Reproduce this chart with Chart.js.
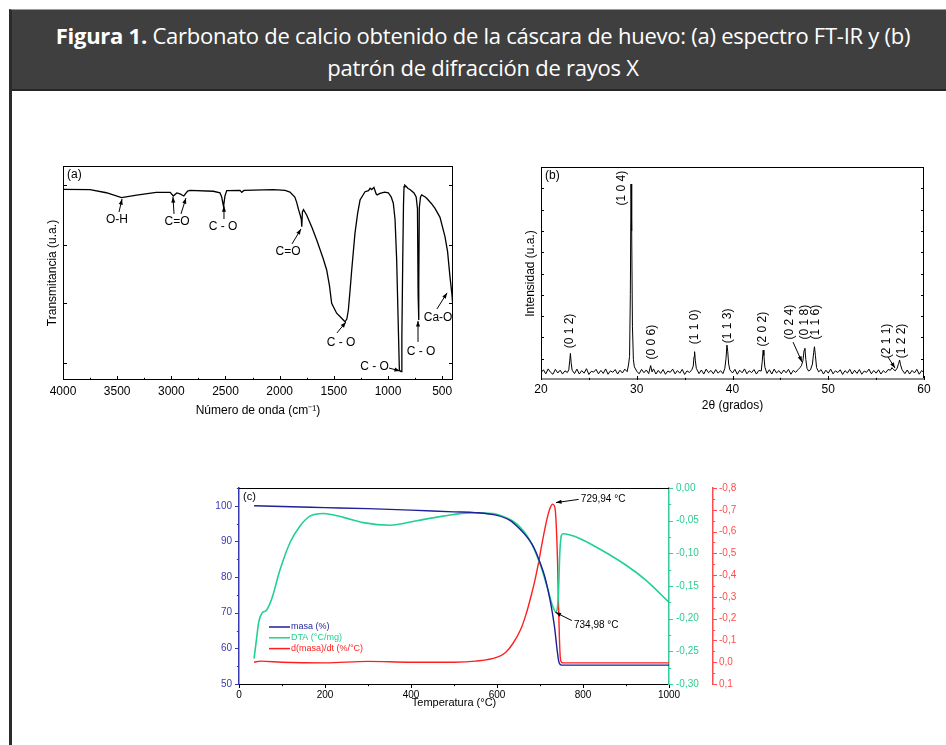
<!DOCTYPE html>
<html lang="es">
<head>
  <meta charset="UTF-8">
  <title>Figura 1</title>
  <script src="https://cdn.jsdelivr.net/npm/chart.js"></script>
  <style>
    body { margin: 0; background: #fff; width: 946px; height: 745px; overflow: hidden; position: relative; }
    #frame {
      position: absolute; left: 9px; top: 9px; width: 940px; height: 760px;
      border-left: 3px solid #2b2b2b; border-top: 1px solid #9a9a9a;
    }
    #head {
      background: #3f3f3f; height: 70px; padding-top: 9px;
      border-bottom: 2px solid #262626;
      color: #fff; text-align: center;
      font-family: "Open Sans", sans-serif; font-size: 22px; line-height: 32px;
      letter-spacing: -0.25px; padding-left: 2px;
    }
    #head b { font-weight: 700; }
    canvas { position: absolute; }
    #chartA { left: 20px; top: 150px; }
    #chartB { left: 500px; top: 150px; }
    #chartC { left: 200px; top: 475px; }
  </style>
</head>
<body>
  <div id="frame">
    <div id="head"><b>Figura 1.</b> Carbonato de calcio obtenido de la cáscara de huevo: (a) espectro FT-IR y (b)<br>patrón de difracción de rayos X</div>
  </div>
  <canvas id="chartA" width="450" height="280"></canvas>
  <canvas id="chartB" width="446" height="280"></canvas>
  <canvas id="chartC" width="550" height="245"></canvas>

  <script>
    // (a) FT-IR
    const irWave = [4000, 3750, 3600, 3460, 3320, 3140, 3010, 2982, 2950, 2920, 2885, 2850, 2828, 2612, 2551, 2535, 2518, 2505, 2489, 2366, 2350, 2330, 2060, 1950, 1905, 1860, 1843, 1825, 1810, 1800, 1796, 1790, 1780, 1751, 1700, 1658, 1600, 1566, 1540, 1520, 1474, 1430, 1397, 1380, 1366, 1350, 1335, 1305, 1280, 1258, 1212, 1180, 1165, 1150, 1130, 1110, 1100, 1074, 1030, 997, 970, 951, 935, 920, 905, 895, 880, 872, 864, 857, 852, 845, 834, 815, 797, 760, 740, 728, 722, 718, 714, 711, 700, 689, 660, 643, 600, 566, 520, 474, 450, 428, 410, 400];
    const irTrans = [89.1, 89.0, 87.5, 85.2, 86.4, 87.7, 87.7, 86.0, 87.4, 87.0, 86.0, 88.3, 88.6, 88.2, 87.5, 85.5, 81.0, 86.0, 88.5, 88.6, 87.7, 88.6, 89.0, 88.6, 87.8, 85.5, 83.0, 79.5, 77.0, 75.0, 71.6, 78.5, 79.6, 77.1, 71.0, 65.4, 57.0, 51.4, 44.0, 35.8, 31.2, 29.0, 27.2, 28.5, 32.7, 42.0, 51.4, 68.5, 78.0, 84.1, 88.0, 88.5, 89.6, 89.0, 90.0, 87.0, 86.5, 87.2, 87.8, 87.5, 85.5, 82.6, 75.0, 56.1, 25.0, 4.7, 3.9, 20.0, 56.0, 82.0, 90.3, 91.0, 90.5, 89.5, 89.0, 87.4, 85.5, 80.0, 40.0, 28.0, 45.0, 80.5, 85.5, 86.5, 85.6, 84.9, 82.5, 80.2, 76.0, 67.0, 60.0, 48.3, 40.0, 34.0];
    const irXTicks = [4000, 3500, 3000, 2500, 2000, 1500, 1000, 500];
    const irTickVals = [8, 36, 63, 91];
    const irNotes = [
      { text: 'O-H', x: 3502, y: 74.8 },
      { text: 'C=O', x: 2948, y: 73.8 },
      { text: 'C - O', x: 2523, y: 71.5 },
      { text: 'C=O', x: 1923, y: 59.8 },
      { text: 'C - O', x: 1434, y: 17.3 },
      { text: 'C - O', x: 1125, y: 6.1 },
      { text: 'C - O', x: 695, y: 13.1 },
      { text: 'Ca-O', x: 538, y: 29.0 }
    ];
    const irArrows = [
      [3483, 78.5, 3455, 84.6], [2975, 77.6, 2985, 85.5], [2911, 77.6, 2865, 85.0],
      [2514, 75.2, 2514, 81.3], [1886, 63.6, 1803, 70.6], [1471, 22.0, 1388, 27.1],
      [991, 5.6, 889, 4.2], [723, 17.8, 723, 27.6], [548, 33.2, 455, 40.7]
    ];

    // (b) XRD
    const xrdTheta = [20.00, 20.25, 20.50, 20.75, 21.00, 21.25, 21.50, 21.75, 22.00, 22.25, 22.50, 22.75,
      22.90, 23.00, 23.07, 23.15, 23.25, 23.50, 23.75, 24.00, 24.25, 24.50, 24.75, 25.00, 25.25, 25.50, 25.75,
      26.00, 26.25, 26.50, 26.75, 27.00, 27.25, 27.50, 27.75, 28.00, 28.25, 28.50, 28.75, 29.00,
      29.15, 29.25, 29.33, 29.40, 29.47, 29.55, 29.65, 29.75, 30.00, 30.25, 30.50, 30.75, 31.00, 31.25,
      31.45, 31.60, 31.75, 32.00, 32.25, 32.50, 32.75, 33.00, 33.25, 33.50, 33.75, 34.00, 34.25, 34.50,
      34.75, 35.00, 35.25, 35.50, 35.75, 35.90, 35.98, 36.04, 36.12, 36.22, 36.50, 36.75, 37.00, 37.25,
      37.50, 37.75, 38.00, 38.25, 38.50, 38.75, 39.00, 39.20, 39.32, 39.42, 39.50, 39.60, 39.72, 40.00,
      40.25, 40.50, 40.75, 41.00, 41.25, 41.50, 41.75, 42.00, 42.25, 42.50, 42.75, 43.00, 43.10, 43.20,
      43.28, 43.38, 43.60, 43.85, 44.10, 44.35, 44.60, 44.85, 45.10, 45.35, 45.60, 45.85, 46.10, 46.35,
      46.60, 46.85, 47.05, 47.20, 47.35, 47.48, 47.56, 47.66, 47.78, 47.95, 48.15, 48.35, 48.48, 48.56,
      48.66, 48.78, 49.00, 49.25, 49.50, 49.75, 50.00, 50.25, 50.50, 50.75, 51.00, 51.25, 51.50, 51.75,
      52.00, 52.25, 52.50, 52.75, 53.00, 53.25, 53.50, 53.75, 54.00, 54.25, 54.50, 54.75, 55.00, 55.25,
      55.50, 55.75, 56.00, 56.25, 56.50, 56.65, 56.80, 57.00, 57.20, 57.35, 57.45, 57.55, 57.70, 58.00,
      58.25, 58.50, 58.75, 59.00, 59.25, 59.50, 59.75, 60.00];
    const xrdInt = [3.4, 4.8, 2.9, 5.2, 3.6, 2.7, 5.0, 3.3, 4.6, 2.8, 4.3, 3.5,
      4.8, 9.0, 12.5, 8.2, 4.6, 3.0, 5.1, 2.8, 4.4, 3.2, 5.3, 2.6, 4.1, 3.7, 5.0,
      2.9, 4.5, 3.1, 5.2, 2.7, 4.3, 3.6, 4.9, 2.8, 4.6, 3.3, 5.1, 3.9,
      7.5, 11.0, 40.0, 92.0, 70.0, 25.0, 9.5, 6.2, 4.1, 2.9, 5.0, 3.4, 4.7, 3.0,
      6.8, 3.8, 5.2, 2.8, 4.5, 3.1, 4.9, 2.7, 4.2, 3.6, 5.1, 2.9, 4.4, 3.2,
      5.0, 2.6, 4.3, 3.5, 4.8, 6.5, 11.0, 13.3, 9.0, 5.5, 3.0, 4.7, 2.8, 5.1,
      3.4, 4.5, 2.9, 4.9, 3.2, 4.4, 3.0, 5.5, 10.0, 16.4, 13.5, 7.5, 4.8, 3.3,
      5.0, 2.7, 4.6, 3.4, 5.2, 2.9, 4.3, 3.5, 4.9, 2.8, 4.5, 4.2, 8.5, 14.0,
      11.5, 6.0, 3.1, 4.8, 2.8, 5.1, 3.3, 4.4, 2.9, 4.7, 3.4, 5.0, 2.7, 4.5,
      3.6, 4.9, 5.8, 6.8, 9.0, 14.0, 14.9, 9.5, 5.5, 4.2, 4.8, 7.5, 13.0, 15.6,
      11.5, 5.8, 3.8, 4.9, 2.8, 4.6, 3.2, 5.1, 2.9, 4.3, 3.5, 4.8, 2.6, 4.4,
      3.3, 5.0, 2.8, 4.6, 3.1, 4.9, 2.7, 4.2, 3.6, 5.1, 2.9, 4.5, 3.2, 4.8,
      2.8, 4.4, 3.4, 4.9, 4.6, 5.8, 5.0, 4.3, 5.6, 7.8, 9.4, 7.2, 4.9, 3.0,
      4.7, 2.8, 4.5, 3.3, 5.0, 2.7, 4.4, 3.5];
    const xrdXTicks = [20, 30, 40, 50, 60];
    const xrdNotes = [
      { text: '(0 1 2)', x: 23.03, y: 23.0 }, { text: '(1 0 4)', x: 28.43, y: 90.1 },
      { text: '(0 0 6)', x: 31.56, y: 17.8 }, { text: '(1 1 0)', x: 36.08, y: 24.9 },
      { text: '(1 1 3)', x: 39.53, y: 25.4 }, { text: '(2 0 2)', x: 43.19, y: 23.9 },
      { text: '(0 2 4)', x: 46.0, y: 27.2 }, { text: '(0 1 8)', x: 47.57, y: 27.2 },
      { text: '(1 1 6)', x: 48.72, y: 27.2 }, { text: '(2 1 1)', x: 56.1, y: 18.3 },
      { text: '(1 2 2)', x: 57.67, y: 18.3 }
    ];
    const xrdArrows = [[46.32, 17.8, 47.26, 8.5], [56.24, 10.8, 56.97, 5.6]];

    // (c) TGA / DTA
    const masaT = [35, 100, 200, 300, 400, 500, 550, 600, 630, 653, 670, 681, 690, 700, 710, 717, 723, 729, 734, 739, 743, 745, 750, 800, 900, 1000];
    const masa = [100, 99.8, 99.5, 99.2, 98.8, 98.3, 98.1, 97.3, 95.9, 93.5, 91.2, 89.3, 87.2, 84.1, 80.6, 77.2, 73.8, 69.8, 65.8, 60.4, 56.8, 55.8, 55.3, 55.3, 55.3, 55.3];
    const dtaT = [35, 40, 46, 53, 64, 76, 95, 119, 142, 165, 196, 243, 289, 351, 413, 475, 537, 591, 620, 646, 677, 700, 717, 729, 737, 741, 743, 746, 750, 755, 780, 824, 902, 948, 1000];
    const dta = [-0.261, -0.235, -0.205, -0.192, -0.187, -0.170, -0.126, -0.083, -0.058, -0.043, -0.039, -0.045, -0.053, -0.057, -0.050, -0.043, -0.038, -0.039, -0.045, -0.055, -0.081, -0.116, -0.152, -0.180, -0.190, -0.180, -0.160, -0.100, -0.072, -0.070, -0.074, -0.088, -0.119, -0.142, -0.175];
    const dtgT = [35, 50, 100, 200, 300, 400, 500, 550, 599, 620, 637, 655, 668, 680, 688, 696, 703, 710, 717, 724, 729, 733, 736, 739, 741, 743, 745, 747, 750, 754, 800, 1000];
    const dtg = [0.0, -0.005, 0.0, 0.003, -0.004, 0.0, 0.0, -0.005, -0.022, -0.045, -0.086, -0.150, -0.223, -0.310, -0.375, -0.450, -0.527, -0.600, -0.664, -0.710, -0.726, -0.720, -0.690, -0.573, -0.450, -0.269, -0.120, -0.025, 0.0, 0.003, 0.003, 0.003];
    const tgaXTicks = [0, 200, 400, 600, 800, 1000];
    const masaTicks = [50, 60, 70, 80, 90, 100];
    const tgaNotes = [
      { text: '729,94 °C', x: 795, y: 101.9, align: 'left' },
      { text: '734,98 °C', x: 779, y: 66.6, align: 'left' }
    ];
    const tgaArrows = [[790, 101.8, 737, 100.9], [774, 67.8, 736, 70.1]];
    const legendNames = ['masa (%)', 'DTA (°C/mg)', 'd(masa)/dt (%/°C)'];

    const ARIAL = '"Liberation Sans", Arial, sans-serif';
    const navy = '#1f1f99', green = '#22d090', red = '#ff1f1f';

    const pairs = (xs, ys) => xs.map((x, i) => ({ x, y: ys[i] }));
    const fixW = w => (s) => { s.width = w; };
    const fixH = h => (s) => { s.height = h; };
    const setTicks = list => (s) => { s.ticks = list.map(v => ({ value: v })); };

    function arrow(ctx, x1, y1, x2, y2) {
      const ang = Math.atan2(y2 - y1, x2 - x1), h = 6;
      ctx.beginPath(); ctx.moveTo(x1, y1); ctx.lineTo(x2, y2); ctx.stroke();
      ctx.beginPath();
      ctx.moveTo(x2, y2);
      ctx.lineTo(x2 - h * Math.cos(ang - 0.35), y2 - h * Math.sin(ang - 0.35));
      ctx.lineTo(x2 - h * Math.cos(ang + 0.35), y2 - h * Math.sin(ang + 0.35));
      ctx.closePath(); ctx.fill();
    }

    // settings for the extras plugin, per canvas (kept out of Chart's option resolver)
    const extrasCfg = {};

    // texts, arrows, frame and tick marks drawn from the chart's own scales
    const extras = {
      id: 'extras',
      afterDatasetsDraw(chart) {
        const o = extrasCfg[chart.canvas.id];
        if (!o) return;
        const { ctx, chartArea: a } = chart;
        const xs = chart.scales.x, ys = chart.scales[o.yScale || 'y'];
        ctx.save();
        if (o.frame) {
          ctx.strokeStyle = '#000'; ctx.lineWidth = 1;
          ctx.strokeRect(Math.round(a.left) + 0.5, Math.round(a.top) + 0.5, Math.round(a.width) - 1, Math.round(a.height) - 1);
          if (o.bottomColor) {
            ctx.strokeStyle = o.bottomColor; ctx.lineWidth = 2;
            ctx.beginPath(); ctx.moveTo(a.left, a.bottom - 1); ctx.lineTo(a.right, a.bottom - 1); ctx.stroke();
          }
        }
        if (o.topLine) {
          ctx.strokeStyle = '#000'; ctx.lineWidth = 1;
          ctx.beginPath(); ctx.moveTo(a.left, Math.round(a.top) + 0.5); ctx.lineTo(a.right, Math.round(a.top) + 0.5); ctx.stroke();
        }
        for (const t of o.ticks || []) {
          const s = chart.scales[t.scale];
          ctx.strokeStyle = t.color || '#000'; ctx.lineWidth = 1;
          let vals = t.values;
          if (!vals) {
            vals = [];
            const n = Math.round((t.to - t.from) / t.step);
            for (let i = 0; i <= n; i++) vals.push(t.from + i * t.step);
          }
          for (const v of vals) {
            const major = !t.major || Math.abs(v / t.major - Math.round(v / t.major)) < 1e-6;
            const len = major ? t.len : t.len * 0.55;
            const p = Math.round(s.getPixelForValue(v)) + 0.5;
            ctx.beginPath();
            if (t.edge === 'bottom' || t.edge === 'top') {
              const y0 = t.edge === 'bottom' ? a.bottom : a.top;
              ctx.moveTo(p, y0); ctx.lineTo(p, y0 + t.dir * len);
            } else {
              const x0 = t.edge === 'left' ? a.left : t.edge === 'right' ? a.right : s.left;
              ctx.moveTo(x0, p); ctx.lineTo(x0 + t.dir * len, p);
            }
            ctx.stroke();
          }
        }
        ctx.fillStyle = '#000'; ctx.strokeStyle = '#000'; ctx.lineWidth = 1;
        ctx.font = o.font; ctx.textBaseline = 'middle';
        for (const n of o.notes || []) {
          ctx.save();
          ctx.translate(xs.getPixelForValue(n.x), ys.getPixelForValue(n.y));
          if (o.rotate) ctx.rotate(-Math.PI / 2);
          ctx.textAlign = n.align || 'center';
          ctx.fillText(n.text, 0, 0);
          ctx.restore();
        }
        for (const r of o.arrows || []) {
          arrow(ctx, xs.getPixelForValue(r[0]), ys.getPixelForValue(r[1]), xs.getPixelForValue(r[2]), ys.getPixelForValue(r[3]));
        }
        if (o.panel) {
          ctx.font = o.panelFont; ctx.textAlign = 'left';
          ctx.fillText(o.panel, a.left + 4, a.top + 9);
        }
        if (o.legend) {
          ctx.font = '9px ' + ARIAL; ctx.lineWidth = 1.5;
          o.legend.forEach((it, i) => {
            const y = a.bottom - 57 + i * 10.8;
            ctx.strokeStyle = it.color; ctx.fillStyle = it.color;
            ctx.beginPath(); ctx.moveTo(a.left + 30, y); ctx.lineTo(a.left + 51, y); ctx.stroke();
            ctx.fillText(it.text, a.left + 52, y);
          });
        }
        ctx.restore();
      }
    };
    Chart.register(extras);

    const font12 = { family: ARIAL, size: 12 };

    extrasCfg.chartA = {
      frame: true, font: '12px ' + ARIAL, notes: irNotes, arrows: irArrows,
      panel: '(a)', panelFont: '12px ' + ARIAL,
      ticks: [
        { scale: 'x', from: 500, to: 4000, step: 250, major: 500, len: 4, edge: 'bottom', dir: -1 },
        { scale: 'y', values: irTickVals, len: 4, edge: 'left', dir: 1 },
        { scale: 'y', values: irTickVals, len: 4, edge: 'right', dir: -1 }
      ]
    };
    new Chart(document.getElementById('chartA'), {
      type: 'line',
      data: { datasets: [{ data: pairs(irWave, irTrans), borderColor: '#000', borderWidth: 1.3, pointRadius: 0, fill: false }] },
      options: {
        responsive: false, animation: false, devicePixelRatio: 1,
        layout: { padding: { top: 16, right: 17, left: 0, bottom: 0 } },
        plugins: { legend: { display: false }, tooltip: { enabled: false } },
        scales: {
          x: {
            type: 'linear', reverse: true, min: 400, max: 4000,
            afterBuildTicks: setTicks(irXTicks), afterFit: fixH(50),
            grid: { display: false, drawTicks: false }, border: { display: false },
            ticks: { autoSkip: false, maxRotation: 0, padding: 4, color: '#000', font: font12, callback: v => String(v) },
            title: { display: true, text: 'Número de onda (cm⁻¹)', color: '#000', font: font12, padding: { top: 0, bottom: 12 } }
          },
          y: {
            min: 0, max: 100, afterFit: fixW(43),
            grid: { display: false, drawTicks: false }, border: { display: false },
            ticks: { display: false },
            title: { display: true, text: 'Transmitancia (u.a.)', color: '#000', font: font12, padding: { top: 25, bottom: 0 } }
          }
        }
      }
    });

    extrasCfg.chartB = {
      frame: true, bottomColor: '#8a8a8a', font: '12px ' + ARIAL, rotate: true,
      notes: xrdNotes, arrows: xrdArrows, panel: '(b)', panelFont: '12px ' + ARIAL,
      ticks: [
        { scale: 'x', from: 20, to: 60, step: 5, major: 10, len: 4, edge: 'bottom', dir: -1 },
        { scale: 'y', from: 10, to: 90, step: 10, len: 3, edge: 'left', dir: 1 },
        { scale: 'y', from: 10, to: 90, step: 10, len: 3, edge: 'right', dir: -1 }
      ]
    };
    new Chart(document.getElementById('chartB'), {
      type: 'line',
      data: { datasets: [{ data: pairs(xrdTheta, xrdInt), borderColor: '#000', borderWidth: 1, pointRadius: 0, fill: false }] },
      options: {
        responsive: false, animation: false, devicePixelRatio: 1,
        layout: { padding: { top: 17, right: 22, left: 0, bottom: 0 } },
        plugins: { legend: { display: false }, tooltip: { enabled: false } },
        scales: {
          x: {
            type: 'linear', min: 20, max: 60, afterBuildTicks: setTicks(xrdXTicks), afterFit: fixH(50),
            grid: { display: false, drawTicks: false }, border: { display: false },
            ticks: { autoSkip: false, maxRotation: 0, padding: 2, color: '#000', font: font12 },
            title: { display: true, text: '2θ (grados)', color: '#000', font: font12, padding: { top: 0, bottom: 17 } }
          },
          y: {
            min: 0, max: 100, afterFit: fixW(41),
            grid: { display: false, drawTicks: false }, border: { display: false },
            ticks: { display: false },
            title: { display: true, text: 'Intensidad (u.a.)', color: '#000', font: font12, padding: { top: 23, bottom: 0 } }
          }
        }
      }
    });

    const font10 = { family: ARIAL, size: 10 };
    const commaFix = d => v => (Math.abs(v) < 1e-9 ? 0 : v).toFixed(d).replace('.', ',');

    extrasCfg.chartC = {
      topLine: true, font: '10px ' + ARIAL, notes: tgaNotes, arrows: tgaArrows,
      panel: '(c)', panelFont: '11px ' + ARIAL,
      legend: legendNames.map((t, i) => ({ text: t, color: [navy, green, red][i] })),
      ticks: [
        { scale: 'x', from: 0, to: 1000, step: 100, major: 200, len: 4, edge: 'bottom', dir: 1 },
        { scale: 'y', from: 50, to: 105, step: 5, major: 10, len: 4, edge: 'left', dir: -1, color: '#3a3ab0' },
        { scale: 'y2', from: -0.3, to: 0, step: 0.025, major: 0.05, len: 4, edge: 'right', dir: 1, color: '#33cc99' },
        { scale: 'y3', from: -0.8, to: 0.1, step: 0.05, major: 0.1, len: 4, edge: 'scale', dir: 1, color: '#ff4d4d' }
      ]
    };
    new Chart(document.getElementById('chartC'), {
      type: 'line',
      data: {
        datasets: [
          { data: pairs(masaT, masa), yAxisID: 'y', borderColor: navy, borderWidth: 1.4, pointRadius: 0, cubicInterpolationMode: 'monotone' },
          { data: pairs(dtaT, dta), yAxisID: 'y2', borderColor: green, borderWidth: 1.6, pointRadius: 0, cubicInterpolationMode: 'monotone' },
          { data: pairs(dtgT, dtg), yAxisID: 'y3', borderColor: red, borderWidth: 1.4, pointRadius: 0, cubicInterpolationMode: 'monotone' }
        ]
      },
      options: {
        responsive: false, animation: false, devicePixelRatio: 1,
        layout: { padding: { top: 12, right: 0, left: 0, bottom: 0 } },
        plugins: { legend: { display: false }, tooltip: { enabled: false } },
        scales: {
          x: {
            type: 'linear', min: 0, max: 1000, afterBuildTicks: setTicks(tgaXTicks), afterFit: fixH(36),
            grid: { display: false, drawTicks: false }, border: { display: true, color: '#000', width: 1 },
            ticks: { autoSkip: false, maxRotation: 0, padding: 5, color: '#000', font: font10, callback: v => String(v) },
            title: { display: true, text: 'Temperatura (°C)', color: '#000', font: { family: ARIAL, size: 11 }, padding: { top: 0, bottom: 10 } }
          },
          y: {
            position: 'left', min: 50, max: 105, afterBuildTicks: setTicks(masaTicks), afterFit: fixW(39),
            grid: { display: false, drawTicks: false }, border: { display: true, color: '#3a3ab0', width: 1.5 },
            ticks: { autoSkip: false, padding: 7, color: '#3a3ab0', font: font10 }
          },
          y2: {
            position: 'right', weight: 1, min: -0.3, max: 0, afterFit: fixW(44),
            grid: { display: false, drawTicks: false }, border: { display: true, color: '#33cc99', width: 1.5 },
            ticks: { stepSize: 0.05, autoSkip: false, padding: 7, color: '#2ecc8f', font: font10, callback: commaFix(2) }
          },
          y3: {
            position: 'right', weight: 2, min: -0.8, max: 0.1, reverse: true, afterFit: fixW(37),
            grid: { display: false, drawTicks: false }, border: { display: true, color: '#ff4d4d', width: 1.5 },
            ticks: { stepSize: 0.1, autoSkip: false, padding: 6, color: '#ff4d4d', font: font10, callback: commaFix(1) }
          }
        }
      }
    });
  </script>
</body>
</html>
